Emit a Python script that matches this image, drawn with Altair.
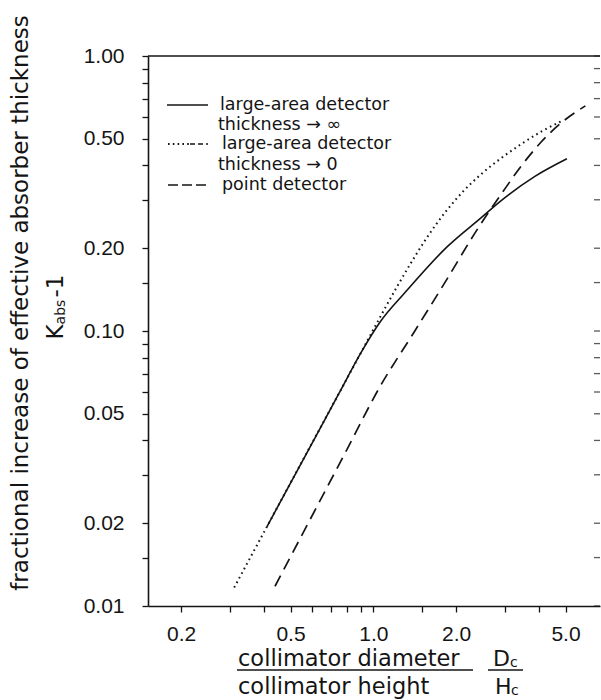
import altair as alt
import pandas as pd

# ---------------- data ----------------
solid_x = [0.410, 0.580, 0.750, 0.900, 1.057, 1.307, 1.858, 2.464, 2.918, 3.869, 5.058]
solid_y = [0.0194, 0.0368, 0.0593, 0.0831, 0.1076, 0.1383, 0.2027, 0.2580, 0.2980, 0.3650, 0.4230]

dotted_x = [0.312, 0.410, 0.580, 0.750, 0.900, 1.057, 1.218, 1.403, 1.615, 1.858, 2.141,
            2.464, 2.918, 3.455, 4.093, 4.848]
dotted_y = [0.01167, 0.0194, 0.0369, 0.0593, 0.0831, 0.1120, 0.1445, 0.1837, 0.2286, 0.2762,
            0.3249, 0.3713, 0.4252, 0.4786, 0.5318, 0.5806]

dashed_x = [0.439, 0.800, 1.057, 1.403, 1.858, 2.329, 2.535, 2.918, 3.455, 4.093, 4.848, 5.905]
dashed_y = [0.0118, 0.0369, 0.0627, 0.0986, 0.1550, 0.2250, 0.2566, 0.3146, 0.3987, 0.4886,
            0.5737, 0.6586]

x_tick_values = [0.2, 0.3, 0.4, 0.5, 0.6, 0.7, 0.8, 0.9, 1.0, 1.5, 2.0, 3.0, 4.0, 5.0]
y_tick_values = [0.01, 0.015, 0.02, 0.03, 0.04, 0.05, 0.06, 0.07, 0.08, 0.09, 0.1, 0.15,
                 0.2, 0.3, 0.4, 0.5, 0.6, 0.7, 0.8, 0.9, 1.0]

legend_labels = ["large-area detector", "thickness \u2192 \u221e", "large-area detector",
                 "thickness \u2192 0", "point detector"]

y_title = "fractional increase of effective absorber thickness"
x_title_top = "collimator diameter"
x_title_bottom = "collimator height"

# ---------------- layout ----------------
INK = "#141414"
W, H = 452, 550
PL, PT = 148, 56
TITLE_FONT = "DejaVu Sans"
TICK_FONT = "Liberation Sans"

x_scale = alt.Scale(type="log", domain=[0.1516, 6.674], nice=False)
y_scale = alt.Scale(type="log", domain=[0.01, 1.0], nice=False)

x_lab_expr = "indexof([0.2,0.5,1,2,5], datum.value) >= 0 ? format(datum.value, '.1f') : ''"
y_lab_expr = ("indexof([0.01,0.02,0.05,0.1,0.2,0.5,1], datum.value) >= 0 ? "
              "format(datum.value, '.2f') : ''")

X_AXIS = alt.Axis(values=x_tick_values, labelExpr=x_lab_expr, title=None, grid=False,
                  tickSize=6, labelPadding=11, labelFontSize=21, labelFont=TICK_FONT,
                  labelColor=INK, domainColor=INK, tickColor=INK, domainWidth=1.6,
                  tickWidth=1.3, labelFlush=False, labelOverlap=False)
Y_AXIS = alt.Axis(values=y_tick_values, labelExpr=y_lab_expr, title=None, grid=False,
                  tickSize=6, labelPadding=18, labelFontSize=21, labelFont=TICK_FONT,
                  labelColor=INK, domainColor=INK, tickColor=INK, domainWidth=1.6,
                  tickWidth=1.3, labelFlush=False, labelOverlap=False)


def curve(xs, ys, **mark):
    df = pd.DataFrame({"x": xs, "y": ys})
    return alt.Chart(df).mark_line(color=INK, interpolate="monotone", **mark).encode(
        x=alt.X("x:Q", scale=x_scale, axis=X_AXIS),
        y=alt.Y("y:Q", scale=y_scale, axis=Y_AXIS),
    )


def text(txt, px, py, size, align="left", angle=0, font=TITLE_FONT):
    df = pd.DataFrame({"t": [txt]})
    kw = dict(align=align, baseline="middle", font=font, fontSize=size, color=INK)
    if angle:
        kw["angle"] = angle
    return alt.Chart(df).mark_text(**kw).encode(
        x=alt.value(px - PL), y=alt.value(py - PT), text="t:N"
    )


def seg(x1, x2, py, **mark):
    df = pd.DataFrame({"k": [0]})
    return alt.Chart(df).mark_rule(color=INK, **mark).encode(
        x=alt.value(x1 - PL), x2=alt.value(x2 - PL), y=alt.value(py - PT)
    )


# right-side tick marks (the frame line itself is faded in the reference)
right_ticks = alt.Chart(pd.DataFrame({"y": y_tick_values})).mark_tick(
    color=INK, orient="horizontal", size=6, thickness=1.3
).encode(y=alt.Y("y:Q", scale=y_scale, axis=Y_AXIS), x=alt.value(W - 3))

top_line = seg(PL, PL + W, PT, strokeWidth=1.6)

solid = curve(solid_x, solid_y, strokeWidth=1.6)
dotted = curve(dotted_x, dotted_y, strokeWidth=2.0, strokeDash=[1.6, 3.6])
dashed = curve(dashed_x, dashed_y, strokeWidth=1.7, strokeDash=[12, 7])

# legend
rows = [105, 125, 144, 165, 185]
LF = 17.5
legend = [
    seg(167, 208, rows[0], strokeWidth=1.6),
    seg(168, 190, rows[2], strokeWidth=1.8, strokeDash=[1.6, 3.2]),
    seg(190, 208, rows[2], strokeWidth=1.6, strokeDash=[5, 3]),
    seg(168, 208, rows[4], strokeWidth=1.7, strokeDash=[10, 4]),
    text(legend_labels[0], 220, rows[0], LF),
    text(legend_labels[1], 218, rows[1], LF),
    text(legend_labels[2], 222, rows[2], LF),
    text(legend_labels[3], 218, rows[3], LF),
    text(legend_labels[4], 222, rows[4], LF),
]

# y-axis titles
ytitles = [
    text(y_title, 21, 303, 23, align="center", angle=270),
    text("K", 56, 332, 23, align="center", angle=270),
    text("abs", 61, 312, 14, align="center", angle=270),
    text("-1", 56, 286, 23, align="center", angle=270),
]

# x-axis titles
xtitles = [
    text(x_title_top, 238, 659, 22.5),
    seg(237, 473, 670, strokeWidth=1.4),
    text(x_title_bottom, 238, 687, 22.5),
    text("D", 493, 659, 22),
    text("c", 510, 663, 14),
    seg(488, 523, 670, strokeWidth=1.4),
    text("H", 495, 687, 22),
    text("c", 511, 691, 14),
]

chart = alt.layer(
    solid, dotted, dashed, right_ticks, top_line, *legend, *ytitles, *xtitles
).properties(
    width=W, height=H,
    padding={"left": PL, "top": PT, "right": 1, "bottom": 94},
    autosize=alt.AutoSizeParams(type="none"),
    background="white",
).configure_view(stroke=None)

chart.save("out.html", embed_options={"renderer": "svg", "actions": False})
